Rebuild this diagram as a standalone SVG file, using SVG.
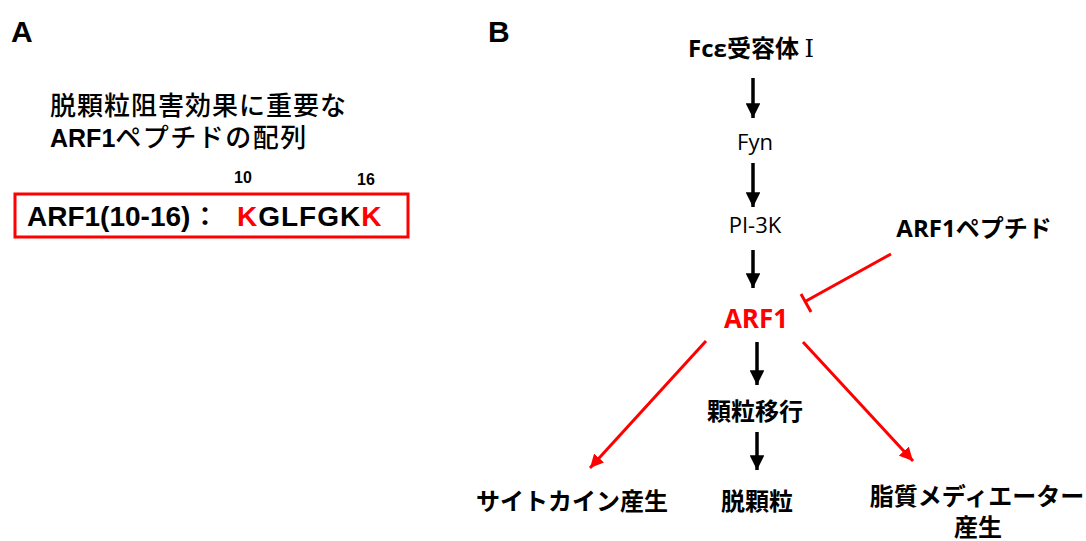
<svg xmlns="http://www.w3.org/2000/svg" width="1086" height="541" viewBox="0 0 1086 541">
<style>
.lbl{font-family:"Liberation Sans","Noto Sans CJK JP",sans-serif;font-weight:bold;fill:#000}
.jp{font-family:"Noto Sans CJK JP",sans-serif;fill:#000}
.os{font-family:"Open Sans","Noto Sans CJK JP",sans-serif;fill:#000}
.red{fill:#ff0000}
.blk{stroke:#000;stroke-width:3.5;fill:none}
.rl{stroke:#ff0000;stroke-width:3;fill:none}
</style>
<defs>
<marker id="ab" viewBox="0 0 10 10" refX="10" refY="5" markerWidth="4.2" markerHeight="4.2" markerUnits="strokeWidth" orient="auto">
<path d="M0,0 L10,5 L0,10 Z" fill="#000"/>
</marker>
<marker id="ar" viewBox="0 0 10 10" refX="10" refY="5" markerWidth="4.5" markerHeight="4.5" markerUnits="strokeWidth" orient="auto">
<path d="M0,0 L10,5 L0,10 Z" fill="#ff0000"/>
</marker>
</defs>
<rect width="1086" height="541" fill="#fff"/>
<g id="panelA">
<text class="lbl" x="11" y="42" font-size="30">A</text>
<text class="jp" x="50" y="115" font-size="26" letter-spacing="1" font-weight="500">脱顆粒阻害効果に重要な</text>
<text class="jp" x="50" y="147" font-size="26" font-weight="500"><tspan class="lbl" font-size="25">ARF1</tspan><tspan letter-spacing="1.5">ペプチドの配列</tspan></text>
<text class="lbl" x="243" y="183" font-size="16" text-anchor="middle">10</text>
<text class="lbl" x="366" y="185" font-size="16" text-anchor="middle">16</text>
<rect x="15" y="194" width="393" height="43" fill="none" stroke="#ff0000" stroke-width="3"/>
<text class="lbl" x="27" y="226" font-size="28">ARF1(10-16)</text>
<text class="jp" x="205" y="226" font-size="26" text-anchor="middle" font-weight="bold">：</text>
<text class="lbl" x="237" y="226" font-size="28" letter-spacing="1"><tspan class="red">K</tspan>GLFGK<tspan class="red">K</tspan></text>
</g>
<g id="panelB-label">
<text class="lbl" x="488" y="42" font-size="30">B</text>
</g>
<g id="fce">
<text class="jp" x="751" y="57" font-size="24" font-weight="bold" text-anchor="middle"><tspan font-family="Open Sans">Fcε</tspan>受容体 <tspan font-family="DejaVu Serif" font-weight="normal">Ⅰ</tspan></text>
</g>
<g id="fyn">
<text class="os" x="755" y="150" font-size="22" text-anchor="middle">Fyn</text>
</g>
<g id="pi3k">
<text class="os" x="755" y="233" font-size="22" text-anchor="middle">PI-3K</text>
</g>
<g id="arf1">
<text class="os red" x="756" y="328" font-size="26" font-weight="bold" text-anchor="middle">ARF1</text>
</g>
<g id="peptide">
<text class="jp" x="974" y="237" font-size="24" font-weight="bold" text-anchor="middle"><tspan font-family="Open Sans">ARF1</tspan>ペプチド</text>
</g>
<g id="granule-transport">
<text class="jp" x="755" y="420" font-size="24" font-weight="bold" text-anchor="middle">顆粒移行</text>
</g>
<g id="cytokine">
<text class="jp" x="572" y="510" font-size="24" font-weight="bold" text-anchor="middle">サイトカイン産生</text>
</g>
<g id="degranulation">
<text class="jp" x="757" y="510" font-size="24" font-weight="bold" text-anchor="middle">脱顆粒</text>
</g>
<g id="lipid">
<text class="jp" x="977" y="505" font-size="24" font-weight="bold" text-anchor="middle">脂質メディエーター</text>
<text class="jp" x="978" y="536" font-size="24" font-weight="bold" text-anchor="middle">産生</text>
</g>
<g id="connectors">
<line class="blk" x1="753" y1="78" x2="753" y2="118" marker-end="url(#ab)"/>
<line class="blk" x1="753" y1="163" x2="753" y2="207" marker-end="url(#ab)"/>
<line class="blk" x1="753" y1="250" x2="753" y2="288" marker-end="url(#ab)"/>
<line class="blk" x1="757" y1="342" x2="757" y2="385" marker-end="url(#ab)"/>
<line class="blk" x1="757" y1="432" x2="757" y2="470" marker-end="url(#ab)"/>
<line class="rl" x1="891" y1="254" x2="806" y2="301"/>
<line class="rl" x1="801" y1="294" x2="811" y2="312"/>
<line class="rl" x1="706" y1="341" x2="590" y2="468" marker-end="url(#ar)"/>
<line class="rl" x1="803" y1="342" x2="913" y2="461" marker-end="url(#ar)"/>
</g>
</svg>
